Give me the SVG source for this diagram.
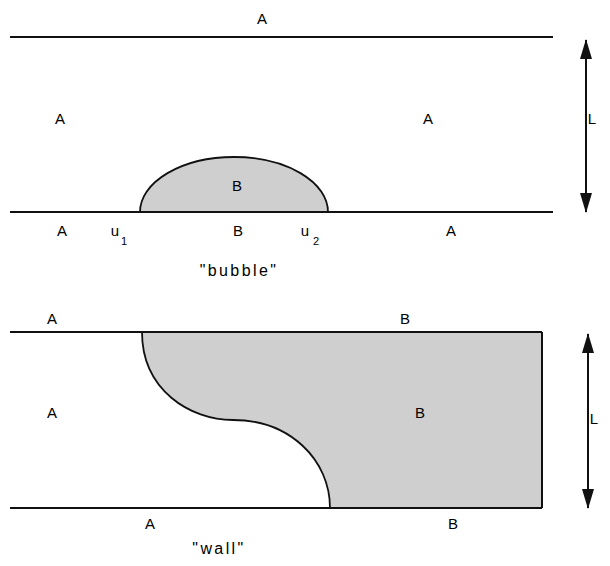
<svg xmlns="http://www.w3.org/2000/svg" width="610" height="566" viewBox="0 0 610 566">
<defs>
<style>
text{font-family:"Liberation Sans",Arial,sans-serif;font-size:15px;fill:#000;text-anchor:middle}
.q{font-size:16px;letter-spacing:2.4px}
.sub{font-size:11px}
.ln{stroke:#111;stroke-width:2;fill:none}
.sh{fill:#cfcfcf;stroke:#111;stroke-width:1.8}
.ar{stroke:#111;stroke-width:2;fill:none}
</style>
<marker id="ah2" viewBox="0 0 20 12" refX="19" refY="6" markerWidth="20" markerHeight="12" markerUnits="userSpaceOnUse" orient="auto-start-reverse">
<path d="M0,0 L20,6 L0,12 Z" fill="#111"/>
</marker>
</defs>
<g id="bubble-panel">
<g id="bubble-shape"><path class="sh" d="M140,212 A94 55 0 0 1 328,212 Z"/></g>
<g id="lines-top">
<line class="ln" x1="10" y1="37" x2="553" y2="37"/>
<line class="ln" x1="10" y1="212" x2="553" y2="212"/>
</g>
<text x="262" y="24">A</text>
<text x="60" y="124">A</text>
<text x="428" y="124">A</text>
<text x="592" y="124">L</text>
<text x="237" y="191">B</text>
<text x="62" y="236">A</text>
<text x="115" y="236">u</text>
<text x="124" y="245" class="sub">1</text>
<text x="238" y="236">B</text>
<text x="305" y="236">u</text>
<text x="316" y="245" class="sub">2</text>
<text x="451" y="236">A</text>
<text x="239" y="276" class="q">"bubble"</text>
</g>
<g id="wall-panel">
<g id="wall-shape"><path class="sh" d="M142,332 L542,332 L542,508 L330,508 C330,460 290,420 233,420 C190,420 142,390 142,332 Z" style="stroke:none"/>
<path class="ln" d="M142,332 C142,390 190,420 233,420 C290,420 330,460 330,508" style="stroke-width:1.8"/></g>
<g id="lines-bottom">
<line class="ln" x1="10" y1="332" x2="542" y2="332"/>
<line class="ln" x1="542" y1="332" x2="542" y2="508"/>
<line class="ln" x1="10" y1="508" x2="542" y2="508"/>
</g>
<text x="52" y="324">A</text>
<text x="405" y="324">B</text>
<text x="52" y="418">A</text>
<text x="420" y="418">B</text>
<text x="594" y="424">L</text>
<text x="150" y="529">A</text>
<text x="453" y="529">B</text>
<text x="219" y="554" class="q">"wall"</text>
</g>
<g id="connectors">
<line class="ar" x1="586" y1="40" x2="586" y2="212" marker-start="url(#ah2)" marker-end="url(#ah2)"/>
<line class="ar" x1="588" y1="334" x2="588" y2="508" marker-start="url(#ah2)" marker-end="url(#ah2)"/>
</g>
</svg>
